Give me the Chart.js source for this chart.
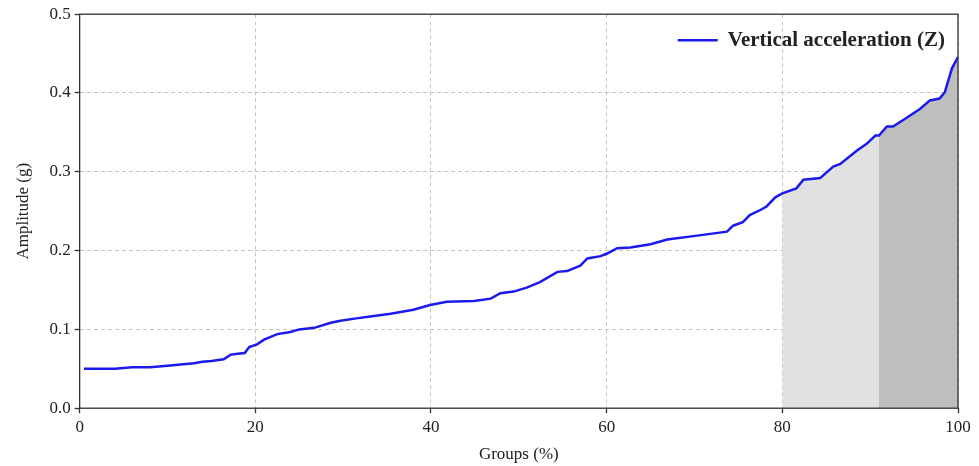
<!DOCTYPE html>
<html>
<head>
<meta charset="utf-8">
<script src="https://cdn.jsdelivr.net/npm/chart.js@4.4.0/dist/chart.umd.min.js"></script>
<style>
  html, body { margin: 0; padding: 0; background: #fff; }
  #wrap { width: 979px; height: 466px; }
</style>
</head>
<body>
<div id="wrap"><canvas id="accChart"></canvas></div>
<script>
// values
const groupsPct = [0.5, 2, 4, 6, 8, 10, 11.5, 13, 14, 15, 16.4, 17.2, 18, 18.8, 19.3, 20.2, 21, 22.5, 24, 25,
    26.7, 28.6, 29.7, 31.5, 33.5, 35.4, 38, 39.9, 41.8, 44.9, 46.8, 47.9, 49.4, 50.9, 52.4, 54.4, 55.5, 57, 57.8, 59.3,
    60, 61.2, 62.7, 65, 66.9, 70.3, 73.7, 74.4, 75.5, 76.3, 77.5, 78.2, 79.2, 80, 81.6, 82.4, 84.3, 85.8, 86.6, 88.5,
    89.6, 90.6, 91, 91.9, 92.6, 94.2, 95.7, 96.8, 97.9, 98.5, 99.3, 100];
const amplitudeZ = [0.050, 0.050, 0.050, 0.052, 0.052, 0.054, 0.0556, 0.057, 0.059, 0.060, 0.062, 0.068, 0.069, 0.070, 0.0776, 0.081, 0.087, 0.094, 0.0967, 0.100,
    0.102, 0.1085, 0.111, 0.114, 0.117, 0.120, 0.125, 0.131, 0.135, 0.136, 0.139, 0.146, 0.148, 0.153, 0.160, 0.173, 0.174, 0.181, 0.190, 0.193,
    0.196, 0.203, 0.204, 0.208, 0.214, 0.219, 0.224, 0.2316, 0.236, 0.245, 0.2515, 0.256, 0.2676, 0.2727, 0.279, 0.290, 0.292, 0.3066, 0.310, 0.327,
    0.3355, 0.346, 0.346, 0.3575, 0.3575, 0.369, 0.380, 0.3906, 0.393, 0.401, 0.431, 0.4457];
const xTicks = [0, 20, 40, 60, 80, 100];
const yTicks = [0.0, 0.1, 0.2, 0.3, 0.4, 0.5];
const shadeBands = [[80, 91], [91, 100]];
const shadeColors = ['#e1e1e1', '#bebebe'];
const seriesLabel = 'Vertical acceleration (Z)';

const points = groupsPct.map((g, i) => ({ x: g, y: amplitudeZ[i] }));
const bandData = band => points.filter(p => p.x >= band[0] && p.x <= band[1]);

const serif = "'Liberation Serif', 'Times New Roman', serif";
const axisColor = '#333333';
const lineBlue = '#1a1aee';

// frame around the plot + legend inside the top right corner
const framePlugin = {
    id: 'frame',
    afterDraw(chart) {
        const { ctx, chartArea: a } = chart;
        ctx.save();
        ctx.strokeStyle = axisColor;
        ctx.lineWidth = 1.3;
        ctx.strokeRect(a.left, a.top, a.right - a.left, a.bottom - a.top);

        ctx.font = `bold 21px ${serif}`;
        ctx.textBaseline = 'middle';
        const textW = ctx.measureText(seriesLabel).width;
        const textX = a.right - 13 - textW;
        const y = a.top + 26;
        ctx.strokeStyle = lineBlue;
        ctx.lineWidth = 2.5;
        ctx.beginPath();
        ctx.moveTo(textX - 50, y);
        ctx.lineTo(textX - 10, y);
        ctx.stroke();
        ctx.fillStyle = '#222';
        ctx.fillText(seriesLabel, textX, y);
        ctx.restore();
    }
};

const gridOpts = {
    color: '#c4c4c4',
    tickLength: 5,
    tickColor: axisColor,
    tickBorderDash: [],
    tickWidth: 1.3
};

const ctx = document.getElementById('accChart').getContext('2d');
new Chart(ctx, {
    type: 'line',
    data: {
        datasets: [
            {
                label: seriesLabel,
                data: points,
                borderColor: lineBlue,
                borderWidth: 2.5,
                pointRadius: 0,
                tension: 0,
                fill: false,
                order: 0
            },
            ...shadeBands.map((band, i) => ({
                label: 'shade' + i,
                data: bandData(band),
                borderWidth: 0,
                borderColor: 'rgba(0,0,0,0)',
                backgroundColor: shadeColors[i],
                pointRadius: 0,
                tension: 0,
                fill: 'origin',
                order: 1
            }))
        ]
    },
    options: {
        responsive: true,
        maintainAspectRatio: false,
        animation: false,
        layout: { padding: { top: 5, right: 21, left: 13, bottom: 1 } },
        plugins: {
            legend: { display: false },
            tooltip: { enabled: false }
        },
        scales: {
            x: {
                type: 'linear',
                min: 0,
                max: 100,
                afterBuildTicks: axis => { axis.ticks = xTicks.map(v => ({ value: v })); },
                ticks: { color: '#222', font: { family: serif, size: 17 }, padding: 4, maxRotation: 0 },
                grid: gridOpts,
                border: { display: false, dash: [4, 3] },
                title: { display: true, text: 'Groups (%)', color: '#222', font: { family: serif, size: 17 }, padding: { top: 3, bottom: 0 } }
            },
            y: {
                min: 0,
                max: 0.5,
                afterBuildTicks: axis => { axis.ticks = yTicks.map(v => ({ value: v })); },
                ticks: { color: '#222', font: { family: serif, size: 17 }, padding: 4, callback: v => v.toFixed(1) },
                grid: gridOpts,
                border: { display: false, dash: [4, 3] },
                title: { display: true, text: 'Amplitude (g)', color: '#222', font: { family: serif, size: 17 }, padding: { top: 0, bottom: 12 } }
            }
        }
    },
    plugins: [framePlugin]
});
</script>
</body>
</html>
